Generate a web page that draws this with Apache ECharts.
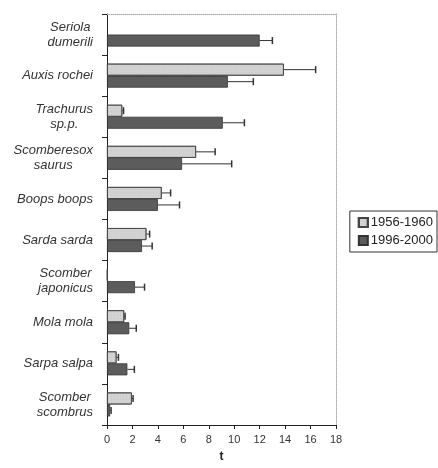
<!DOCTYPE html>
<html>
<head>
<meta charset="utf-8">
<script src="https://cdn.jsdelivr.net/npm/echarts@6/dist/echarts.min.js"></script>
<style>html,body{margin:0;padding:0;background:#fff}#c{width:438px;height:468px}</style>
</head>
<body>
<div id="c"></div>
<script>
const categories = ["Seriola\ndumerili", "Auxis rochei", "Trachurus\nsp.p.", "Scomberesox\nsaurus", "Boops boops", "Sarda sarda", "Scomber\njaponicus", "Mola mola", "Sarpa salpa", "Scomber\nscombrus"];
const seriesNames = ["1956-1960", "1996-2000"];
const values1956 = [null, 13.9, 1.2, 7.0, 4.3, 3.1, 0.05, 1.35, 0.75, 1.95];
const errors1956 = [0, 2.5, 0.1, 1.5, 0.7, 0.25, 0, 0.07, 0.15, 0.1];
const values1996 = [12.0, 9.5, 9.1, 5.9, 4.0, 2.75, 2.2, 1.75, 1.6, 0.25];
const errors1996 = [1.0, 2.0, 1.7, 3.9, 1.7, 0.8, 0.75, 0.55, 0.55, 0.07];
const xTicks = [0, 18, 2];

const FONT = 'Liberation Sans, Arial, sans-serif';
const BAR_W = 12;

function errSeries(vals, errs, offset) {
  return {
    type: 'custom',
    silent: true,
    z: 5,
    data: vals.map((v, i) => [v == null ? 0 : v, i, errs[i]]),
    renderItem: function (params, api) {
      const v = api.value(0), i = api.value(1), e = api.value(2);
      if (!e) return null;
      const p0 = api.coord([v, i]);
      const p1 = api.coord([v + e, i]);
      const y = p0[1] + offset;
      const cap = 3.5;
      return {
        type: 'group',
        children: [
          {type: 'line', shape: {x1: p0[0], y1: y, x2: p1[0], y2: y}, style: {stroke: '#333', lineWidth: 1}},
          {type: 'line', shape: {x1: p1[0], y1: y - cap, x2: p1[0], y2: y + cap}, style: {stroke: '#333', lineWidth: 1.5}}
        ]
      };
    }
  };
}

const chart = echarts.init(document.getElementById('c'), null, {renderer: 'canvas'});
chart.setOption({
  animation: false,
  backgroundColor: '#fff',
  textStyle: {fontFamily: FONT},
  grid: {left: 107, top: 14, right: 102, bottom: 41, containLabel: false},
  legend: {
    orient: 'vertical',
    right: 1,
    top: 211,
    data: seriesNames,
    itemWidth: 9,
    itemHeight: 9,
    itemGap: 5,
    padding: [5, 4, 5, 8],
    borderColor: '#333',
    borderWidth: 1,
    borderRadius: 0,
    textStyle: {fontFamily: FONT, fontSize: 13, color: '#222', padding: [0, 0, 0, -2]},
    icon: 'rect'
  },
  xAxis: [{
    type: 'value',
    min: xTicks[0], max: xTicks[1], interval: xTicks[2],
    name: 't',
    nameLocation: 'middle',
    nameGap: 26,
    nameTextStyle: {fontFamily: FONT, fontSize: 12, fontWeight: 'bold', color: '#222'},
    axisLine: {show: true, lineStyle: {color: '#222', width: 1}},
    axisTick: {show: true, length: 4, lineStyle: {color: '#222'}},
    axisLabel: {fontFamily: FONT, fontSize: 11, color: '#333', margin: 9},
    splitLine: {show: false}
  }, {
    type: 'value',
    position: 'top',
    min: xTicks[0], max: xTicks[1],
    axisLine: {show: true, onZero: false, lineStyle: {color: '#aaa', width: 1, type: 'dotted'}},
    axisTick: {show: false},
    axisLabel: {show: false},
    splitLine: {show: false}
  }],
  yAxis: [{
    type: 'category',
    data: categories,
    inverse: true,
    axisLine: {show: true, lineStyle: {color: '#222', width: 1}},
    axisTick: {show: true, length: 5, lineStyle: {color: '#222'}},
    axisLabel: {
      margin: 14,
      formatter: function (v) { return v.split('\n').map(s => '{c|' + s + '}').join('\n'); },
      rich: {c: {align: 'center', fontFamily: FONT, fontSize: 13, fontStyle: 'italic', color: '#333', lineHeight: 15}}
    }
  }, {
    type: 'value',
    position: 'right',
    min: 0, max: 1,
    axisLine: {show: true, onZero: false, lineStyle: {color: '#aaa', width: 1, type: 'dotted'}},
    axisTick: {show: false},
    axisLabel: {show: false},
    splitLine: {show: false}
  }],
  series: [{
    name: seriesNames[0],
    type: 'bar',
    data: values1956,
    barWidth: BAR_W,
    barGap: '0%',
    itemStyle: {color: '#d2d2d2', borderColor: '#444', borderWidth: 0.8,
      decal: {symbol: 'rect', symbolSize: 0.5, dashArrayX: [1, 2], dashArrayY: [1, 2], color: 'rgba(80,80,80,0.25)', rotation: 0}}
  }, {
    name: seriesNames[1],
    type: 'bar',
    data: values1996,
    barWidth: BAR_W,
    barGap: '0%',
    itemStyle: {color: '#5c5c5c', borderColor: '#333', borderWidth: 0.8}
  },
  errSeries(values1956, errors1956, -BAR_W / 2),
  errSeries(values1996, errors1996, BAR_W / 2)
  ]
});
</script>
</body>
</html>
